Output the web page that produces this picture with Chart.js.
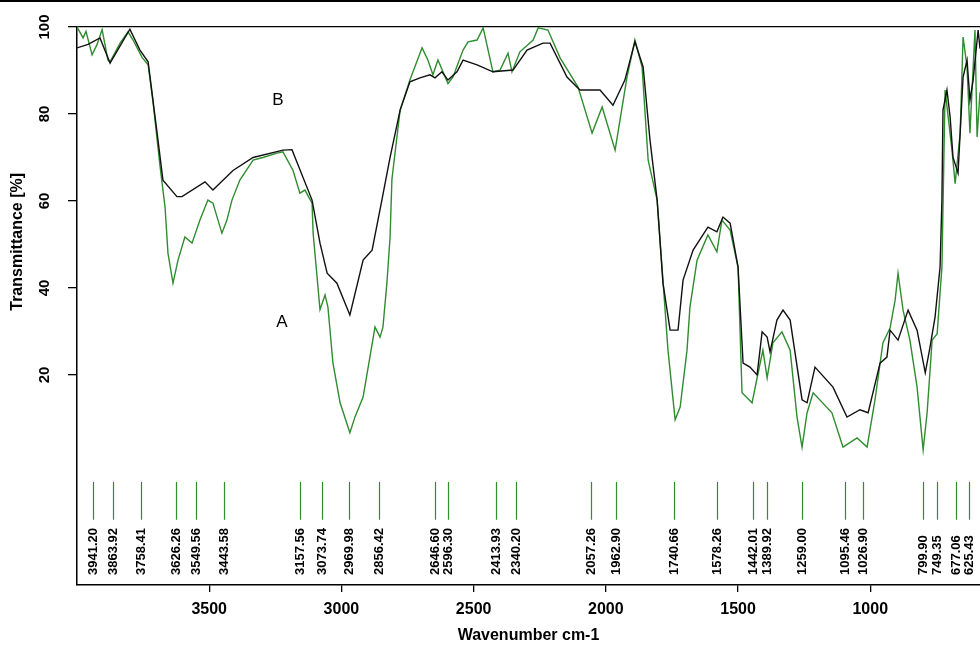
<!DOCTYPE html>
<html>
<head>
<meta charset="utf-8">
<script src="https://cdn.jsdelivr.net/npm/chart.js@4.4.0/dist/chart.umd.min.js"></script>
<style>
  html, body { margin: 0; padding: 0; background: #fff; }
  #wrap { width: 980px; height: 648px; }
</style>
</head>
<body>
<div id="wrap"><canvas id="ir" width="980" height="648"></canvas></div>
<script>
// ===== spectrum B (black), wavenumber cm-1 / transmittance % =====
const waveB = [4000,3958,3913,3875,3800,3762,3731,3697,3675,3622,3603,3516,3486,3410,3334,3221,3187,3111,3081,3054,
  3017,2968,2918,2884,2847,2816,2778,2741,2703,2665,2646,2620,2597,2563,2540,2487,2427,2351,2298,2238,
  2211,2147,2098,2022,1973,1928,1890,1859,1833,1806,1784,1757,1727,1708,1670,1614,1580,1557,1530,1500,
  1481,1455,1428,1409,1390,1379,1353,1330,1303,1258,1239,1209,1141,1088,1039,1008,963,937,925,895,
  857,823,792,774,755,736,729,725,710,698,687,668,649,634,623,611,592,585];
const transB = [95.2,96,97.5,91.7,99.5,94.7,92,75.6,64.8,61,61,64.4,62.5,67,70,71.7,71.8,60.2,50.3,43.4,
  41.1,33.8,46.4,48.7,60.2,70,80.9,87.4,88.3,89,88.3,89.7,87.8,89.7,92.4,91.3,89.7,90.1,94.7,96.3,
  96.3,88.5,85.5,85.5,82,87.8,96.6,90.8,74,60.2,41.1,30.3,30.3,41.8,48.7,54,52.9,56.3,54.9,44.8,
  22.7,21.8,20,29.9,28.7,25.3,32.6,34.9,32.6,14.3,13.6,21.8,17.2,10.3,12,11.3,22.7,24.1,30.3,28,
  34.9,30.3,20.5,26.4,33.3,44.8,60.2,80.9,85.5,79.3,70,66.4,88.5,92.4,83.2,87.8,99.3,95];

// ===== spectrum A (green) =====
const waveA = [4000,3977,3966,3943,3924,3905,3883,3875,3837,3807,3788,3754,3731,3713,3686,3667,3656,3637,3618,3592,
  3565,3535,3505,3486,3452,3433,3414,3384,3334,3297,3244,3221,3183,3157,3138,3111,3107,3081,3062,3051,
  3032,3005,2968,2949,2918,2873,2854,2843,2828,2816,2809,2778,2741,2695,2673,2654,2635,2597,2578,2540,
  2521,2487,2464,2427,2400,2370,2355,2325,2275,2256,2219,2173,2105,2052,2014,1965,1920,1890,1863,1840,
  1806,1784,1765,1738,1719,1693,1682,1655,1614,1580,1561,1530,1500,1485,1447,1424,1406,1390,1368,1334,
  1303,1277,1258,1239,1216,1145,1103,1050,1012,982,952,925,906,895,876,850,823,800,785,766,
  747,729,717,691,679,660,649,634,623,604,596,585];
const transA = [100,97.5,99,93.6,96,99.4,92.4,92,96.3,98.9,97,93,91.3,83,68,58.6,48,41.1,46.4,51.7,
  50.3,55.6,60.2,59.5,52.6,55.6,60.2,64.8,69.4,70,71,71.3,67,61.8,62.5,59.5,52.6,35,38.4,35.6,
  22.7,13.6,6.7,10.3,14.9,31,28.7,31,41.1,51.7,65,80.9,87.8,95.2,92.4,89,92.4,87,88.5,94.7,
  96.6,97,99.8,89.7,90.1,94,89.7,94.3,97,99.8,99.3,92.9,86.2,75.6,81.6,71.7,88.5,97,90.8,69.4,
  60.2,41.8,25.7,9.7,12.6,25.7,35.6,46.4,52.2,48.3,55.6,53.3,44.8,15.9,13.6,20.5,25.7,19.3,27.4,29.9,
  25.7,10.3,3.4,11.3,15.9,11.3,3.4,5.5,3.4,14.3,27.4,30.8,37.2,43.4,34.9,28,17.2,2.8,11.3,28,
  29.5,44.8,85.5,71.7,64,75.6,97.7,90.8,75.6,99.3,74.7,85];

// peak picks printed under the spectrum
const peakLabels = ["3941.20","3863.92","3758.41","3626.26","3549.56","3443.58","3157.56","3073.74",
  "2969.98","2856.42","2646.60","2596.30","2413.93","2340.20","2057.26","1962.90","1740.66",
  "1578.26","1442.01","1389.92","1259.00","1095.46","1026.90","799.90","749.35","677.06","625.43"];

const xTicks = [3500, 3000, 2500, 2000, 1500, 1000];
const yTicks = [20, 40, 60, 80, 100];

const FONT = "'Liberation Sans', Arial, sans-serif";
const GREEN = "#2f8c2f";

function pts(xs, ys) {
  return xs.map((x, i) => ({ x: x, y: ys[i] }));
}

// extra drawing: peak markers, A/B tags, y title
const irDecor = {
  id: "irDecor",
  beforeDraw(chart) {
    const ctx = chart.ctx;
    ctx.save();
    ctx.fillStyle = "#000";
    ctx.fillRect(0, 0, chart.width, 2);
    ctx.restore();
  },
  afterDatasetsDraw(chart) {
    const { ctx, scales: { x, y }, chartArea } = chart;
    ctx.save();

    const yTop = y.getPixelForValue(-4.6);
    const yBot = y.getPixelForValue(-13.3);
    const yTxt = y.getPixelForValue(-26);
    ctx.font = "bold 13px " + FONT;
    ctx.fillStyle = "#000";
    peakLabels.forEach(lbl => {
      const px = Math.round(x.getPixelForValue(parseFloat(lbl))) + 0.5;
      if (px > chartArea.right) return;
      ctx.strokeStyle = GREEN;
      ctx.lineWidth = 1.2;
      ctx.beginPath();
      ctx.moveTo(px, yTop);
      ctx.lineTo(px, yBot);
      ctx.stroke();
      ctx.save();
      ctx.translate(px, yTxt);
      ctx.rotate(-Math.PI / 2);
      ctx.textAlign = "left";
      ctx.textBaseline = "middle";
      ctx.fillText(lbl, 0, 0);
      ctx.restore();
    });

    // curve tags
    ctx.font = "17px " + FONT;
    ctx.textAlign = "center";
    ctx.textBaseline = "middle";
    ctx.fillText("B", x.getPixelForValue(3240), y.getPixelForValue(83.2));
    ctx.fillText("A", x.getPixelForValue(3225), y.getPixelForValue(32.2));

    // y title
    ctx.save();
    ctx.translate(18, y.getPixelForValue(50.6));
    ctx.rotate(-Math.PI / 2);
    ctx.font = "bold 16px " + FONT;
    ctx.fillText("Transmittance [%]", 0, 0);
    ctx.restore();

    ctx.restore();
  }
};

new Chart(document.getElementById("ir"), {
  type: "line",
  data: {
    datasets: [
      { label: "B", data: pts(waveB, transB), borderColor: "#111", borderWidth: 1.4, pointRadius: 0, tension: 0 },
      { label: "A", data: pts(waveA, transA), borderColor: GREEN, borderWidth: 1.4, pointRadius: 0, tension: 0 }
    ]
  },
  options: {
    responsive: false,
    animation: false,
    layout: { padding: { top: 27, right: 0, bottom: 0, left: 0 } },
    plugins: { legend: { display: false }, tooltip: { enabled: false } },
    scales: {
      x: {
        type: "linear",
        reverse: true,
        min: 585,
        max: 4000,
        afterFit: s => { s.height = 63; },
        afterBuildTicks: s => { s.ticks = xTicks.map(v => ({ value: v })); },
        grid: { drawOnChartArea: false, tickLength: 7, tickColor: "#000", lineWidth: 1.3 },
        border: { color: "#000", width: 1.5 },
        ticks: { color: "#000", padding: 8, maxRotation: 0, callback: v => String(v),
                 font: { family: FONT, size: 16, weight: "bold" } },
        title: { display: true, text: "Wavenumber cm-1", color: "#000", padding: { top: 6, bottom: 3 },
                 font: { family: FONT, size: 16, weight: "bold" } }
      },
      y: {
        min: -28.3,
        max: 100,
        afterFit: s => { s.width = 77; },
        afterBuildTicks: s => { s.ticks = yTicks.map(v => ({ value: v })); },
        grid: {
          color: c => (c.tick && c.tick.value === 100 ? "#000" : "rgba(0,0,0,0)"),
          lineWidth: 1.3, tickLength: 9, tickColor: "#000"
        },
        border: { color: "#000", width: 1.5 },
        ticks: { color: "#000", padding: 11, minRotation: 90, maxRotation: 90, crossAlign: "center",
                 callback: v => String(v), font: { family: FONT, size: 15, weight: "bold" } }
      }
    }
  },
  plugins: [irDecor]
});
</script>
</body>
</html>
